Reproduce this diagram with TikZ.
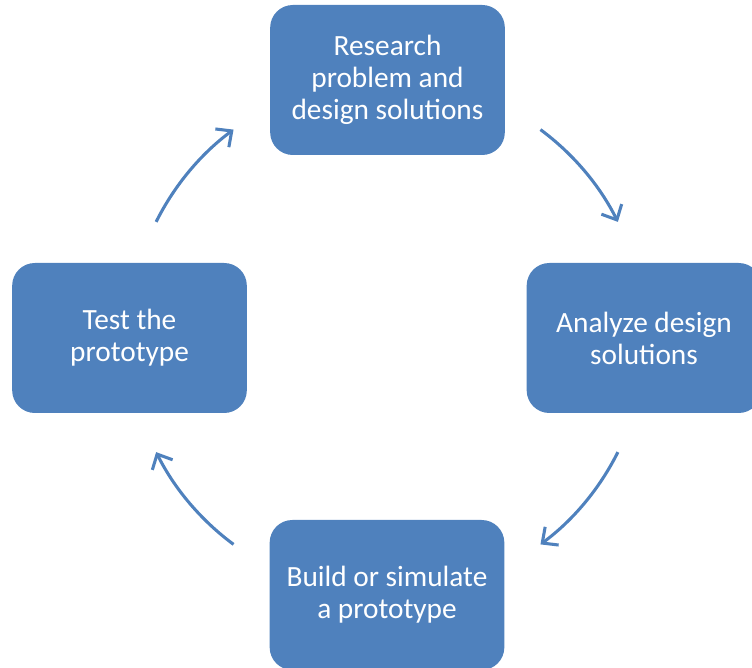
\documentclass[tikz,border=0pt]{standalone}
\usepackage{fontspec}
\setmainfont{Carlito}
\usetikzlibrary{arrows.meta}
\definecolor{boxblue}{HTML}{4F81BD}
\tikzset{
  stepbox/.style={fill=boxblue, draw=none, rounded corners=17pt, minimum width=176pt, minimum height=112.5pt,
    text=white, align=center, font=\fontsize{22}{24}\selectfont, inner sep=0pt},
  cyclearrow/.style={draw=boxblue, line width=2.3pt, -{Straight Barb[length=9pt,width=17pt,line width=2.3pt]}}
}
\begin{document}
\begin{tikzpicture}[x=0.75pt,y=0.75pt]
\useasboundingbox (0,0) rectangle (752,667);
\node[stepbox] (research) at (387.5,587) {Research\\problem and\\design solutions};
\node[stepbox] (analyze) at (644,329) {Analyze design\\solutions};
\node[stepbox] (build) at (387,72) {Build or simulate\\a prototype};
\node[stepbox] (test) at (129.5,329) {Test the\\prototype};
\coordinate (c) at (387,330);
\coordinate (a1) at ([shift={(53.5:258)}]c);
\coordinate (a2) at ([shift={(-26.5:258)}]c);
\coordinate (a3) at ([shift={(-126.5:258)}]c);
\coordinate (a4) at ([shift={(153.5:258)}]c);
\draw[cyclearrow] (a1) arc[start angle=53.5, end angle=26.5, radius=258];
\draw[cyclearrow] (a2) arc[start angle=-26.5, end angle=-53.5, radius=258];
\draw[cyclearrow] (a3) arc[start angle=-126.5, end angle=-153.5, radius=258];
\draw[cyclearrow] (a4) arc[start angle=153.5, end angle=126.5, radius=258];
\end{tikzpicture}
\end{document}
